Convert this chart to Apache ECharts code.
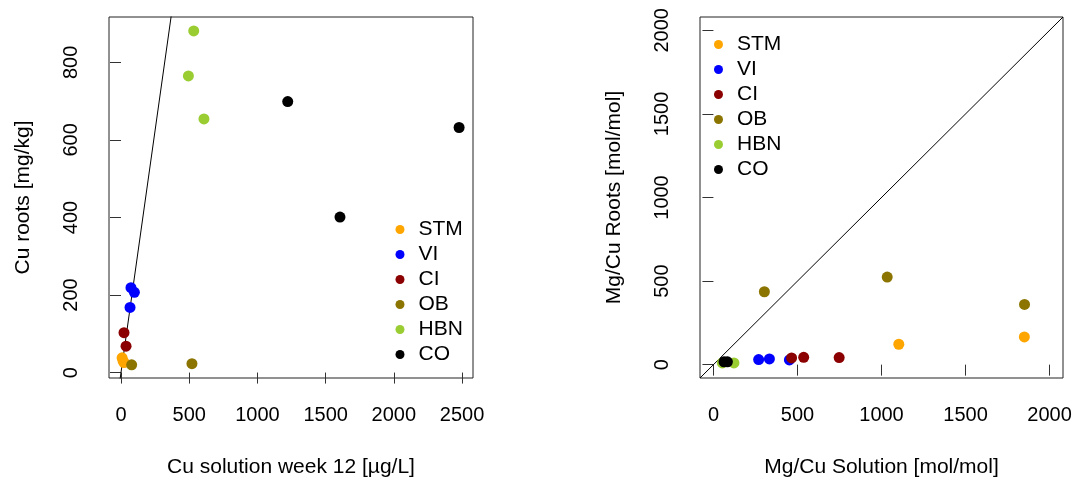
<!DOCTYPE html>
<html>
<head>
<meta charset="utf-8">
<script src="https://cdn.jsdelivr.net/npm/echarts@6/dist/echarts.min.js"></script>
<style>
html,body{margin:0;padding:0;background:#fff;}
#chart{width:1073px;height:479px;}
</style>
</head>
<body>
<div id="chart"></div>
<script>
// ---- Data ----
const groups = ['STM', 'VI', 'CI', 'OB', 'HBN', 'CO'];
const groupColors = ['#FFA500', '#0000FF', '#8B0000', '#8B7500', '#9ACD32', '#000000'];

// Left panel: Cu solution week 12 [µg/L] vs Cu roots [mg/kg]
const leftSTM = [[8, 38], [15, 30], [22, 26]];
const leftVI  = [[73, 219], [98, 207], [66, 168]];
const leftCI  = [[22, 103], [37, 68]];
const leftOB  = [[78, 20], [520, 23]];
const leftHBN = [[533, 881], [494, 765], [608, 654]];
const leftCO  = [[1222, 699], [2478, 632], [1605, 401]];
const leftSlope = 2.5; // reference line y = 2.5 x

// Right panel: Mg/Cu Solution vs Mg/Cu Roots [mol/mol]
const rightSTM = [[1103, 122], [1850, 166]];
const rightVI  = [[269, 30], [333, 34], [452, 28]];
const rightCI  = [[465, 40], [537, 44], [748, 42]];
const rightOB  = [[303, 436], [1034, 524], [1851, 360]];
const rightHBN = [[53, 10], [122, 10]];
const rightCO  = [[63, 17], [83, 17]];

const leftXTicks = [0, 500, 1000, 1500, 2000, 2500];
const leftYTicks = [0, 200, 400, 600, 800];
const rightTicks = [0, 500, 1000, 1500, 2000];

const leftData = [leftSTM, leftVI, leftCI, leftOB, leftHBN, leftCO];
const rightData = [rightSTM, rightVI, rightCI, rightOB, rightHBN, rightCO];

// ---- Chart ----
const FONT = 'Liberation Sans, Arial, sans-serif';
const chart = echarts.init(document.getElementById('chart'), null, {renderer: 'canvas'});

function valueAxis(gridIndex, min, max, ticks, name, isY, nameGap) {
  return {
    type: 'value', gridIndex: gridIndex, min: min, max: max,
    name: name, nameLocation: 'middle', nameGap: nameGap,
    nameTextStyle: {fontFamily: FONT, fontSize: 21, color: '#000'},
    axisLine: {show: false},
    splitLine: {show: false},
    axisTick: {show: true, inside: false, length: 11, customValues: ticks,
               lineStyle: {color: '#333', width: 1}},
    axisLabel: {show: true, customValues: ticks, margin: isY ? 28 : 27,
                rotate: isY ? 90 : 0,
                formatter: v => String(v),
                fontFamily: FONT, fontSize: 20, color: '#000',
                showMinLabel: true, showMaxLabel: true}
  };
}

const series = [];
groups.forEach((g, i) => {
  series.push({
    type: 'scatter', name: g, xAxisIndex: 0, yAxisIndex: 0,
    data: leftData[i], symbol: 'circle', symbolSize: 11,
    itemStyle: {color: groupColors[i], opacity: 1, borderWidth: 0}
  });
});
groups.forEach((g, i) => {
  series.push({
    type: 'scatter', name: g, xAxisIndex: 1, yAxisIndex: 1,
    data: rightData[i], symbol: 'circle', symbolSize: 11,
    itemStyle: {color: groupColors[i], opacity: 1, borderWidth: 0}
  });
});
// reference lines
series.push({
  type: 'line', name: 'ref1', xAxisIndex: 0, yAxisIndex: 0, silent: true,
  data: [[-20, -20 * leftSlope], [400, 400 * leftSlope]],
  symbol: 'none', clip: true, z: 1,
  lineStyle: {color: '#000', width: 1}
});
series.push({
  type: 'line', name: 'ref2', xAxisIndex: 1, yAxisIndex: 1, silent: true,
  data: [[-80, -80], [2080, 2080]],
  symbol: 'none', clip: true, z: 1,
  lineStyle: {color: '#000', width: 1}
});

function legend(left, top) {
  return {
    show: true, orient: 'vertical', left: left, top: top, padding: 0,
    data: groups.map(g => ({name: g, icon: 'circle'})),
    itemWidth: 9, itemHeight: 9, itemGap: 4, symbolKeepAspect: true,
    selectedMode: false,
    textStyle: {fontFamily: FONT, fontSize: 21, color: '#000', lineHeight: 21,
                padding: [0, 0, 0, 9]}
  };
}

chart.setOption({
  animation: false,
  backgroundColor: '#fff',
  grid: [
    {left: 109, top: 17, width: 364, height: 361, show: true, borderColor: '#222', borderWidth: 1,
     backgroundColor: 'transparent', containLabel: false, outerBoundsMode: 'none'},
    {left: 700, top: 17, width: 363, height: 361, show: true, borderColor: '#222', borderWidth: 1,
     backgroundColor: 'transparent', containLabel: false, outerBoundsMode: 'none'}
  ],
  xAxis: [
    valueAxis(0, -88, 2580, leftXTicks, 'Cu solution week 12 [µg/L]', false, 79),
    valueAxis(1, -80, 2080, rightTicks, 'Mg/Cu Solution [mol/mol]', false, 79)
  ],
  yAxis: [
    valueAxis(0, -14, 917, leftYTicks, 'Cu roots [mg/kg]', true, 75),
    valueAxis(1, -80, 2080, rightTicks, 'Mg/Cu Roots [mol/mol]', true, 75)
  ],
  legend: [legend(395.5, 219), legend(714, 34)],
  series: series
});
</script>
</body>
</html>
